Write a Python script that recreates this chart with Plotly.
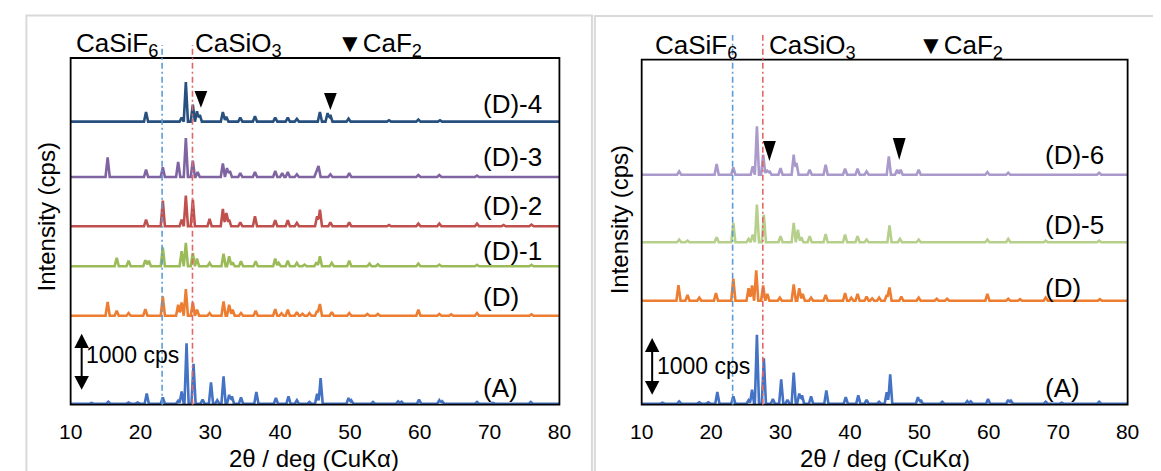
import numpy as np
import plotly.graph_objects as go

# ---------------- data (2θ in deg, intensities in cps above each baseline) ----------------
X_MIN, X_MAX = 10, 80
tick_vals = [10, 20, 30, 40, 50, 60, 70, 80]

A_pos = [13.0, 15.4, 18.3, 19.6, 20.9, 23.2, 25.4, 25.9, 26.6, 27.6, 28.9, 30.1, 31.0, 31.9, 32.7, 33.1,
         34.4, 36.6, 39.4, 41.2, 42.4, 44.2, 45.3, 45.8, 49.8, 50.2, 53.3, 56.9, 57.4, 59.9, 62.8, 63.2,
         68.2, 70.5, 75.9]
A_int = [15, 35, 20, 20, 184, 113, 54, 220, 1080, 710, 71, 380, 60, 488, 160, 131,
         113, 208, 101, 131, 60, 30, 178, 458, 101, 60, 30, 42, 35, 71, 60, 45,
         30, 15, 30]

D_pos = [15.3, 16.6, 18.3, 20.7, 23.2, 25.4, 25.9, 26.5, 27.5, 28.1, 29.9, 31.9, 32.7, 33.2, 34.4, 36.5,
         39.3, 40.2, 41.1, 42.4, 43.2, 44.2, 45.3, 45.7, 47.4, 49.9, 52.5, 54.0, 59.8, 62.8, 64.5, 68.2, 76.0]
D_int = [244, 89, 48, 119, 345, 196, 238, 476, 238, 107, 48, 256, 196, 107, 48, 89,
         119, 45, 107, 65, 35, 48, 90, 208, 65, 48, 30, 30, 107, 30, 25, 48, 25]

D1_pos = [16.6, 18.3, 20.7, 21.2, 23.2, 25.9, 26.5, 27.5, 28.1, 29.9, 31.9, 32.7, 33.2, 34.4, 36.5, 39.3,
          39.8, 41.1, 42.4, 43.5, 45.2, 45.7, 47.4, 49.9, 52.8, 54.0, 59.8, 62.8, 68.2, 76.0]
D1_int = [149, 101, 107, 101, 339, 268, 417, 238, 137, 60, 226, 179, 70, 89, 89, 137,
          60, 101, 60, 30, 70, 179, 60, 101, 48, 36, 48, 30, 24, 24]

D2_pos = [20.8, 23.2, 25.9, 26.5, 27.5, 29.9, 31.8, 32.3, 32.7, 34.3, 36.4, 39.3, 41.1, 42.4, 45.3, 45.7,
          47.2, 49.9, 55.6, 59.8, 62.8, 68.2, 72.0, 76.0]
D2_int = [119, 458, 119, 547, 476, 131, 309, 238, 119, 71, 179, 107, 107, 60, 179, 298,
          71, 71, 24, 48, 48, 48, 24, 30]

D3_pos = [15.3, 20.8, 23.2, 25.4, 26.5, 27.5, 28.2, 31.8, 32.4, 32.8, 34.3, 36.4, 39.3, 40.3, 41.1, 42.4,
          45.2, 45.5, 47.2, 49.9, 59.8, 62.8, 68.2]
D3_int = [351, 131, 173, 268, 696, 292, 89, 244, 161, 110, 71, 89, 107, 71, 89, 48,
          119, 196, 48, 71, 36, 36, 24]

D4_pos = [20.8, 25.9, 26.5, 27.5, 28.1, 28.5, 31.8, 32.3, 34.3, 36.4, 39.3, 41.1, 42.4, 45.7, 46.8, 47.2,
          49.8, 55.6, 59.8, 62.9]
D4_int = [173, 71, 708, 303, 184, 119, 173, 89, 71, 95, 71, 71, 48, 173, 155, 120,
          54, 24, 36, 24]

D5_pos = [15.4, 16.6, 20.8, 23.2, 25.4, 26.0, 26.6, 27.6, 30.0, 31.9, 32.5, 33.0, 34.2, 36.5, 39.3, 41.1,
          42.4, 45.7, 47.2, 49.9, 59.8, 62.8, 68.2, 75.9]
D5_int = [42, 26, 78, 303, 52, 120, 590, 433, 94, 303, 198, 78, 94, 130, 120, 94,
          42, 266, 52, 42, 42, 52, 26, 26]

D6_pos = [15.4, 20.8, 23.2, 26.0, 26.6, 27.5, 28.0, 28.4, 30.0, 31.9, 32.3, 34.2, 36.5, 39.3, 41.1, 42.4,
          45.6, 46.8, 47.3, 49.9, 59.8, 62.8, 75.9]
D6_int = [52, 167, 115, 130, 757, 313, 78, 62, 104, 313, 183, 78, 157, 94, 94, 52,
          287, 78, 78, 78, 42, 31, 31]

# vertical offsets of each pattern (cps)
left_offsets = {"(A)": 0, "(D)": 1571, "(D)-1": 2454, "(D)-2": 3168, "(D)-3": 4048, "(D)-4": 5036}
right_offsets = {"(A)": 0, "(D)": 1614, "(D)-5": 2530, "(D)-6": 3589}

# reference phase positions (2θ)
casif6_pos = 23.1
casio3_pos = 27.45
# CaF2 marker positions (2θ)
caf2_left = [28.66, 47.2]
caf2_right = [28.4, 47.1]

# ---------------- styles ----------------
colors = {
    "(A)": "#4472C4", "(D)": "#ED7D31", "(D)-1": "#9BBB59", "(D)-2": "#C0504D",
    "(D)-3": "#8064A2", "(D)-4": "#27507F", "(D)-5": "#B6D08C", "(D)-6": "#AA9ACB",
}
FONT = "Liberation Sans, Arial, sans-serif"
W, H = 1161, 471
HW = 0.3


def profile(pos, inten, offset):
    pts = {X_MIN, X_MAX}
    for p in pos:
        for d in (-HW, 0.0, HW):
            q = round(p + d, 4)
            if X_MIN <= q <= X_MAX:
                pts.add(q)
    xs = np.array(sorted(pts))
    ys = np.full(xs.shape, float(offset))
    for p, h in zip(pos, inten):
        ys += h * np.clip(1 - np.abs(xs - p) / HW, 0, None)
    return xs, ys


series = {
    "(A)": (A_pos, A_int), "(D)": (D_pos, D_int), "(D)-1": (D1_pos, D1_int),
    "(D)-2": (D2_pos, D2_int), "(D)-3": (D3_pos, D3_int), "(D)-4": (D4_pos, D4_int),
    "(D)-5": (D5_pos, D5_int), "(D)-6": (D6_pos, D6_int),
}

fig = go.Figure()
for name, off in left_offsets.items():
    xs, ys = profile(*series[name], off)
    fig.add_trace(go.Scatter(x=xs, y=ys, mode="lines", line=dict(color=colors[name], width=2.6),
                             xaxis="x", yaxis="y", showlegend=False, hoverinfo="skip"))
for name, off in right_offsets.items():
    xs, ys = profile(*series[name], off)
    fig.add_trace(go.Scatter(x=xs, y=ys, mode="lines", line=dict(color=colors[name], width=2.6),
                             xaxis="x2", yaxis="y2", showlegend=False, hoverinfo="skip"))


def px(xp):
    return xp / W


def py(yp):
    return 1 - yp / H


L_dom = [px(51.7), px(550.8)]
R_dom = [px(634.8), px(1131)]
yb = py(396.7)
L_top = py(50)
R_top = py(51.7)

axis_common = dict(range=[X_MIN, X_MAX], tickvals=tick_vals, showgrid=False, zeroline=False,
                   showline=False, ticks="", tickfont=dict(family=FONT, size=21, color="black"),
                   ticklabelstandoff=12)
yaxis_common = dict(showgrid=False, zeroline=False, showline=False, showticklabels=False, ticks="")

fig.update_layout(
    width=W, height=H, margin=dict(l=0, r=0, t=0, b=0),
    paper_bgcolor="white", plot_bgcolor="white",
    xaxis=dict(domain=L_dom, anchor="y", **axis_common),
    yaxis=dict(domain=[yb, L_top], anchor="x", range=[-18, 6173], **yaxis_common),
    xaxis2=dict(domain=R_dom, anchor="y2", **axis_common),
    yaxis2=dict(domain=[yb, R_top], anchor="x2", range=[-16, 5392], **yaxis_common),
    font=dict(family=FONT, color="black"),
)

shapes = []
# panel borders
shapes.append(dict(type="rect", xref="paper", yref="paper", x0=px(6.5), x1=px(584), y0=py(480), y1=py(7.5),
                   line=dict(color="#D9D9D9", width=2)))
shapes.append(dict(type="rect", xref="paper", yref="paper", x0=px(587), x1=px(1175), y0=py(480), y1=py(8),
                   line=dict(color="#D9D9D9", width=2)))
# plot frames
shapes.append(dict(type="rect", xref="paper", yref="paper", x0=L_dom[0], x1=L_dom[1], y0=yb, y1=L_top,
                   line=dict(color="black", width=1.8)))
shapes.append(dict(type="rect", xref="paper", yref="paper", x0=R_dom[0], x1=R_dom[1], y0=yb, y1=R_top,
                   line=dict(color="black", width=1.8)))
# phase reference lines
for xr, ytop in (("x", py(37)), ("x2", py(27))):
    shapes.append(dict(type="line", xref=xr, yref="paper", x0=casif6_pos, x1=casif6_pos, y0=yb, y1=ytop,
                       line=dict(color="#5B9BD5", width=1.6, dash="6px,3px,2px,3px"), layer="above"))
    shapes.append(dict(type="line", xref=xr, yref="paper", x0=casio3_pos, x1=casio3_pos, y0=yb, y1=ytop,
                       line=dict(color="#E06868", width=1.6, dash="6px,3px,2px,3px"), layer="above"))


def tri_down(xr, yr, xc, ytop, ytip, hw):
    return dict(type="path", xref=xr, yref=yr,
                path=f"M {xc-hw},{ytop} L {xc+hw},{ytop} L {xc},{ytip} Z",
                fillcolor="black", line=dict(color="black", width=0))


def tri_up(xr, yr, xc, ytip, ybase, hw):
    return dict(type="path", xref=xr, yref=yr,
                path=f"M {xc-hw},{ybase} L {xc+hw},{ybase} L {xc},{ytip} Z",
                fillcolor="black", line=dict(color="black", width=0))


# CaF2 markers
shapes.append(tri_down("x", "y", caf2_left[0], 5584, 5284, 0.91))
shapes.append(tri_down("x", "y", caf2_left[1], 5548, 5245, 0.91))
shapes.append(tri_down("x2", "y2", caf2_right[0], 4117, 3804, 0.92))
shapes.append(tri_down("x2", "y2", caf2_right[1], 4164, 3820, 0.92))

# 1000 cps scale arrows
shapes.append(dict(type="line", xref="x", yref="y", x0=11.58, x1=11.58, y0=450, y1=1050,
                   line=dict(color="black", width=2)))
shapes.append(tri_up("x", "y", 11.58, 1250, 995, 1.04))
shapes.append(tri_down("x", "y", 11.58, 495, 250, 1.04))
shapes.append(dict(type="line", xref="x2", yref="y2", x0=11.51, x1=11.51, y0=320, y1=850,
                   line=dict(color="black", width=2)))
shapes.append(tri_up("x2", "y2", 11.51, 1030, 810, 1.04))
shapes.append(tri_down("x2", "y2", 11.51, 356, 141, 1.04))
fig.update_layout(shapes=shapes)

ann = []


def text(x, y, s, size, xanchor="left", angle=0):
    ann.append(dict(x=px(x), y=py(y), xref="paper", yref="paper", text=s, showarrow=False,
                    xanchor=xanchor, yanchor="middle", textangle=angle,
                    font=dict(family=FONT, size=size, color="black")))


# phase headers
text(55.5, 37, "CaSiF<sub>6</sub>", 26)
text(177, 37, "CaSiO<sub>3</sub>", 26)
text(321.5, 37, "▼CaF<sub>2</sub>", 26)
text(646.7, 39, "CaSiF<sub>6</sub>", 26)
text(763, 39, "CaSiO<sub>3</sub>", 26)
text(915, 39, "▼CaF<sub>2</sub>", 26)

# pattern labels
for lab, yy in (("(D)-4", 96), ("(D)-3", 148.5), ("(D)-2", 198), ("(D)-1", 243), ("(D)", 289), ("(A)", 380)):
    text(471, yy, lab, 26)
for lab, yy in (("(D)-6", 146.7), ("(D)-5", 216.7), ("(D)", 280), ("(A)", 380)):
    text(1045, yy, lab, 26)

# scale text
text(65, 346.7, "1000 cps", 23)
text(648, 358, "1000 cps", 23)

# axis titles
text(300, 450, "2θ / deg (CuKα)", 24, xanchor="center")
text(883, 450, "2θ / deg (CuKα)", 24, xanchor="center")
text(27, 209, "Intensity (cps)", 24, xanchor="center", angle=-90)
text(612, 212, "Intensity (cps)", 24, xanchor="center", angle=-90)

fig.update_layout(annotations=ann)
fig.write_html("out.html")
